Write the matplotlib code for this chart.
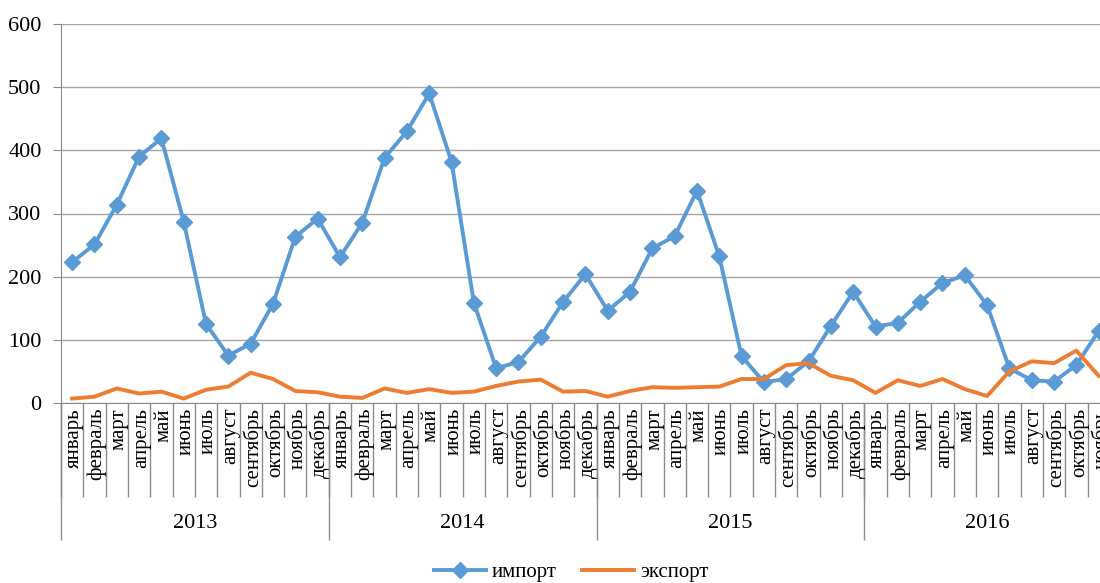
import matplotlib
matplotlib.use("Agg")
import matplotlib.pyplot as plt
import numpy as np

#### Data

months = ["январь", "февраль", "март", "апрель", "май", "июнь",
          "июль", "август", "сентябрь", "октябрь", "ноябрь", "декабрь"]
years = ["2013", "2014", "2015", "2016"]
months_per_year = [12, 12, 12, 11]

imports = [223, 251, 314, 390, 419, 287, 125, 75, 94, 157, 263, 292,
           231, 285, 388, 430, 490, 382, 159, 55, 65, 105, 160, 204,
           146, 176, 245, 264, 336, 232, 74, 33, 38, 66, 122, 176,
           121, 127, 160, 190, 202, 155, 55, 36, 34, 60, 114]
exports = [7, 10, 23, 15, 18, 7, 21, 26, 48, 38, 19, 17,
           10, 8, 23, 16, 22, 16, 18, 27, 34, 37, 18, 19,
           10, 19, 25, 24, 25, 26, 38, 38, 60, 63, 43, 36,
           16, 36, 27, 38, 22, 11, 50, 66, 63, 83, 43]

labels = [m for n in months_per_year for m in months[:n]]
x = np.arange(len(labels))

#### Plot

plt.rcParams["font.family"] = ["Liberation Serif", "DejaVu Serif"]
plt.rcParams["font.size"] = 15

fig = plt.figure(figsize = (11, 5.83), dpi = 100)
ax = fig.add_axes([61 / 1100, 1 - 403 / 583, 1 - 61 / 1100, (403 - 24) / 583])

ax.plot(x, imports, color = "#5B9BD5", lw = 2.8, marker = "D", ms = 8, label = "импорт")
ax.plot(x, exports, color = "#ED7D31", lw = 2.8, label = "экспорт")

ax.set_ylim(0, 600)
ax.set_yticks(range(0, 601, 100))
ax.set_xlim(-0.5, 46.06)
ax.grid(axis = "y", color = "#a6a6a6", lw = 1)
ax.set_axisbelow(True)

for s in ["top", "right"]:
    ax.spines[s].set_visible(False)
for s in ["left", "bottom"]:
    ax.spines[s].set_color("#8c8c8c")

ax.tick_params(axis = "y", length = 6, color = "#8c8c8c", pad = 8, labelsize = 16)
ax.set_xticks(x)
ax.set_xticklabels([])
ax.tick_params(axis = "x", length = 0)

# month labels and separators
trans = ax.get_xaxis_transform()
h = 379.0
for i, lab in enumerate(labels):
    ax.text(i + 0.1, -5 / h, lab, rotation = 90, ha = "center", va = "top", fontsize = 15,
            transform = trans, clip_on = False)
ax.vlines(np.arange(len(labels) + 1) - 0.5, -94 / h, 0, transform = trans, color = "#8c8c8c", lw = 1, clip_on = False)

# year labels and separators
start = 0
bounds = [-0.5]
for yr, n in zip(years, months_per_year):
    ax.text(start + (n - 1) / 2, -120 / h, yr, ha = "center", va = "center", fontsize = 16,
            transform = trans, clip_on = False)
    start += n
    bounds.append(start - 0.5)
ax.vlines(bounds, -137 / h, 0, transform = trans, color = "#8c8c8c", lw = 1, clip_on = False)

fig.legend(loc = "center", bbox_to_anchor = (571 / 1100, 1 - 572 / 583), ncol = 2, frameon = False,
           fontsize = 15, handlelength = 2.5, columnspacing = 1.2, handletextpad = 0.3)

fig.savefig("out.png", dpi = 100)
